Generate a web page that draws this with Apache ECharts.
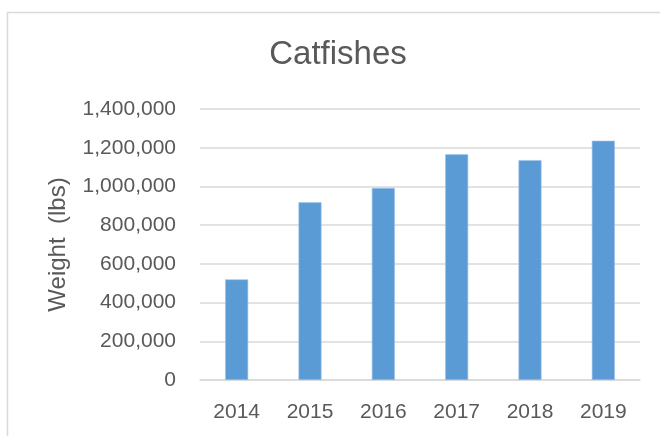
<!DOCTYPE html>
<html>
<head>
<meta charset="utf-8">
<script src="https://cdn.jsdelivr.net/npm/echarts@6/dist/echarts.min.js"></script>
<style>html,body{margin:0;padding:0;background:#fff;}#c{width:660px;height:436px;}</style>
</head>
<body>
<div id="c"></div>
<script>
const categories = ['2014', '2015', '2016', '2017', '2018', '2019'];
const weights = [520000, 918000, 992000, 1166000, 1136000, 1236000];
const yTicks = { min: 0, max: 1400000, interval: 200000 };

const chart = echarts.init(document.getElementById('c'));
const font = 'Liberation Sans, Arial, sans-serif';
chart.setOption({
  animation: false,
  graphic: [{
    type: 'rect', left: 5, top: 10, shape: { width: 700, height: 500 },
    style: { fill: 'none', stroke: '#d9d9d9', lineWidth: 1.5 }, silent: true, z: -1
  }, {
    type: 'text', x: 338, y: 55,
    style: { text: 'Catfishes', fill: '#595959', font: '33px ' + font, align: 'center', verticalAlign: 'middle' }
  }],
  grid: { left: 200, right: 20, top: 109, bottom: 56 },
  xAxis: {
    type: 'category', data: categories,
    axisLine: { show: true, lineStyle: { color: '#d9d9d9', width: 1.5 } },
    axisTick: { show: false },
    axisLabel: { color: '#595959', fontSize: 21, fontFamily: font, margin: 22 }
  },
  yAxis: {
    type: 'value', min: yTicks.min, max: yTicks.max, interval: yTicks.interval,
    name: 'Weight  (lbs)', nameLocation: 'middle', nameGap: 130,
    nameTextStyle: { color: '#595959', fontSize: 24, fontFamily: font },
    axisLine: { show: false }, axisTick: { show: false },
    splitLine: { lineStyle: { color: '#d9d9d9', width: 1.5 } },
    axisLabel: {
      color: '#595959', fontSize: 21, fontFamily: font, margin: 24,
      formatter: v => v.toLocaleString('en-US')
    }
  },
  series: [{
    type: 'bar', data: weights, barWidth: 23,
    itemStyle: { color: '#5b9bd5', borderColor: '#9dc3e6', borderWidth: 0.6 }
  }]
});
</script>
</body>
</html>
